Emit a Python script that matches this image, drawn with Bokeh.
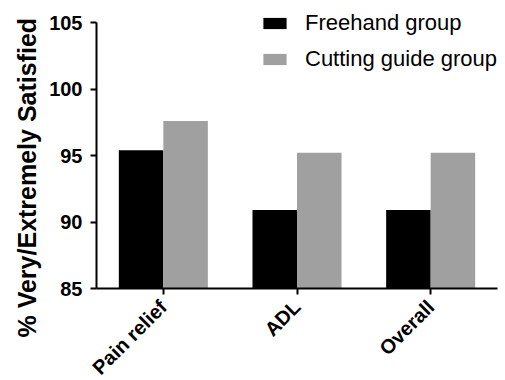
import math
from bokeh.plotting import figure
from bokeh.models import FactorRange, Range1d, FixedTicker, Legend, LegendItem, ColumnDataSource, Title
from bokeh.transform import dodge
from bokeh.embed import file_html
from bokeh.resources import INLINE

categories = ["Pain relief", "ADL", "Overall"]
freehand = [95.4, 90.9, 90.9]
cutting_guide = [97.6, 95.2, 95.2]
series_names = ["Freehand group", "Cutting guide group"]
y_ticks = [85, 90, 95, 100, 105]
y_label = "% Very/Extremely Satisfied"

FONT = "Liberation Sans"

# axis spans 85..105 over 266 px; the frame extends 22 px higher so the legend is not clipped
Y0, Y1 = 85, 105
AXIS_PX, FRAME_PX = 266, 288
y_top = Y0 + (Y1 - Y0) * FRAME_PX / AXIS_PX

src = ColumnDataSource(dict(cat=categories, freehand=freehand, guide=cutting_guide))

p = figure(frame_width=401, frame_height=FRAME_PX, x_range=FactorRange(*categories, range_padding=0),
           y_range=Range1d(Y0, y_top), output_backend="svg", toolbar_location=None,
           min_border_left=96, min_border_right=8, min_border_top=0, min_border_bottom=86)
p.outline_line_color = None
p.xgrid.grid_line_color = None
p.ygrid.grid_line_color = None
p.background_fill_color = "white"

r1 = p.vbar(x=dodge("cat", -0.1665, range=p.x_range), top="freehand", bottom=Y0, width=0.333,
            source=src, fill_color="#000000", line_color=None)
r2 = p.vbar(x=dodge("cat", 0.1665, range=p.x_range), top="guide", bottom=Y0, width=0.333,
            source=src, fill_color="#a0a0a0", line_color=None)

for ax in (p.xaxis[0], p.yaxis[0]):
    ax.axis_line_width = 2
    ax.axis_line_color = "black"
    ax.major_tick_line_width = 2
    ax.major_tick_line_color = "black"
    ax.major_tick_out = 6
    ax.major_tick_in = 0
    ax.minor_tick_line_color = None
    ax.major_label_text_font = FONT
    ax.major_label_text_font_style = "bold"
    ax.major_label_text_font_size = "20px"
    ax.major_label_text_color = "black"

p.yaxis.ticker = FixedTicker(ticks=y_ticks)
p.yaxis.bounds = (Y0, Y1)
p.yaxis.major_label_standoff = 8

p.xaxis.major_label_orientation = math.pi / 4
p.xaxis.major_label_standoff = 9

ytitle = Title(text=y_label, align="left", offset=-49, standoff=12, text_font=FONT,
               text_font_style="bold", text_font_size="25px", text_color="black")
p.add_layout(ytitle, "left")

legend = Legend(items=[LegendItem(label=series_names[0], renderers=[r1]),
                       LegendItem(label=series_names[1], renderers=[r2])],
                location=(164, 216), glyph_width=29, glyph_height=14, label_standoff=16,
                label_text_font=FONT, label_text_font_size="22px", label_text_color="black",
                padding=0, margin=0, spacing=10, border_line_color=None,
                background_fill_alpha=0)
p.add_layout(legend, "center")

open("out.html", "w").write(file_html(p, INLINE))
